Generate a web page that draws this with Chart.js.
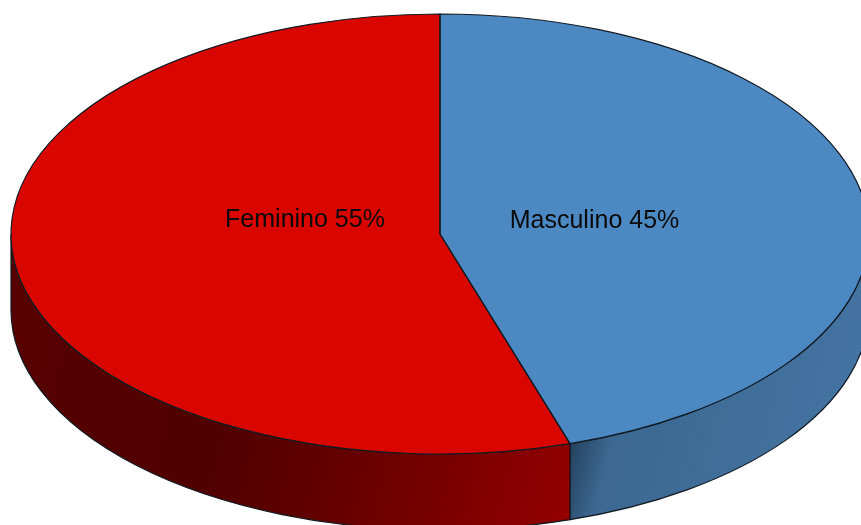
<!DOCTYPE html>
<html><head><meta charset="utf-8">
<style>html,body{margin:0;padding:0;background:#fff;overflow:hidden}canvas{display:block}</style>
<script src="https://cdn.jsdelivr.net/npm/chart.js@4"></script>
</head><body><canvas id="c" width="861" height="525"></canvas>
<script>
const categories = ['Masculino', 'Feminino'];
const values = [45.1, 54.9];
const topColors = ['#4c88c2', '#d90600'];
const wallStops = [
  [[0, '#264461'], [0.12, '#3c6891'], [1, '#4576a6']],
  [[0, '#560000'], [0.34, '#500000'], [0.55, '#630000'], [0.75, '#7a0000'], [1, '#980000']]
];
const labelAt = [[594.5, 228], [305, 227]];
const ELLIPSE = {rx: 429, ry: 220, depth: 76};
const OUTLINE = '#111a22';

function geom(chart) {
  const a = chart.getDatasetMeta(0).data[0];
  return {cx: a.x, cy: a.y, r: a.outerRadius};
}
const pie3d = {
  id: 'pie3d',
  beforeDatasetsDraw(chart) {
    const ctx = chart.ctx, {cx, cy, r} = geom(chart), {rx, ry, depth} = ELLIPSE;
    chart.getDatasetMeta(0).data.forEach((arc, i) => {
      const a0 = Math.max(arc.startAngle, 0), a1 = Math.min(arc.endAngle, Math.PI);
      if (a1 <= a0) return;
      const x0 = cx + rx * Math.cos(a1), x1 = cx + rx * Math.cos(a0);
      const lo = Math.min(x0, x1), hi = Math.max(x0, x1);
      const g = ctx.createLinearGradient(lo, cy + ry, hi, cy + ry + (hi - lo) * 0.25);
      wallStops[i].forEach(s => g.addColorStop(s[0], s[1]));
      ctx.beginPath();
      ctx.ellipse(cx, cy, rx, ry, 0, a0, a1);
      ctx.ellipse(cx, cy + depth, rx, ry, 0, a1, a0, true);
      ctx.closePath();
      ctx.fillStyle = g; ctx.fill();
      ctx.strokeStyle = OUTLINE; ctx.lineWidth = 1.2; ctx.stroke();
    });
    ctx.save();
    ctx.translate(cx, cy);
    ctx.scale(rx / r, ry / r);
    ctx.translate(-cx, -cy);
  },
  afterDatasetsDraw(chart) {
    const ctx = chart.ctx, {cx, cy} = geom(chart), {rx, ry} = ELLIPSE;
    ctx.restore();
    chart.getDatasetMeta(0).data.forEach(arc => {
      ctx.beginPath();
      ctx.moveTo(cx, cy);
      ctx.ellipse(cx, cy, rx, ry, 0, arc.startAngle, arc.endAngle);
      ctx.closePath();
      ctx.strokeStyle = OUTLINE; ctx.lineWidth = 1.2; ctx.stroke();
    });
    ctx.fillStyle = '#0a0a0a';
    ctx.font = '25px "Liberation Sans"';
    ctx.textAlign = 'center'; ctx.textBaseline = 'alphabetic';
    categories.forEach((c, i) => ctx.fillText(c + ' ' + Math.round(values[i]) + '%', labelAt[i][0], labelAt[i][1]));
  }
};
new Chart(document.getElementById('c'), {
  type: 'pie',
  data: {labels: categories, datasets: [{data: values, backgroundColor: topColors, borderWidth: 0, clip: false}]},
  options: {
    responsive: false, animation: false,
    layout: {padding: {left: 19, right: 0, top: 0, bottom: 57}},
    plugins: {legend: {display: false}, tooltip: {enabled: false}, title: {display: false}}
  },
  plugins: [pie3d]
});
</script></body></html>
